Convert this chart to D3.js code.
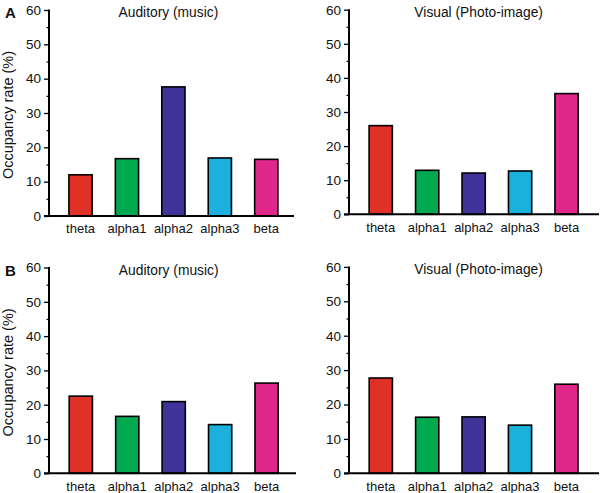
<!DOCTYPE html>
<html>
<head>
<meta charset="utf-8">
<script src="https://cdn.jsdelivr.net/npm/d3@7"></script>
<style>
  html, body { margin: 0; padding: 0; background: #fff; }
  svg { display: block; font-family: Arial, "Liberation Sans", Helvetica, sans-serif; }
</style>
</head>
<body>
<svg id="chart" width="602" height="493"></svg>
<script>
// ---- data ----
const categories = ["theta", "alpha1", "alpha2", "alpha3", "beta"];
const barColors = ["#e03127", "#00a84f", "#403399", "#1cb0dc", "#e0278a"];
const auditoryA = [12.0, 16.7, 37.6, 16.9, 16.5];
const visualA   = [26.0, 12.9, 12.1, 12.7, 35.4];
const auditoryB = [22.5, 16.6, 20.9, 14.2, 26.3];
const visualB   = [27.7, 16.3, 16.4, 14.0, 25.9];
const yTicks = [0, 10, 20, 30, 40, 50, 60];
const yMinorTicks = [5, 15, 25, 35, 45, 55];
const titles = ["Auditory (music)", "Visual (Photo-image)"];
const yTitle = "Occupancy rate (%)";

const svg = d3.select("#chart");

const panels = [
  { values: auditoryA, title: titles[0], ax: 49,  y0: 216,   y60: 10,    r: [57.3, 289.5], xEnd: 294, letter: "A", showYTitle: true },
  { values: visualA,   title: titles[1], ax: 349, y0: 214.3, y60: 9.7,   r: [357.5, 589.8], xEnd: 599, letter: null, showYTitle: false },
  { values: auditoryB, title: titles[0], ax: 49,  y0: 473.3, y60: 267.5, r: [57.6, 289.8], xEnd: 296, letter: "B", showYTitle: true },
  { values: visualB,   title: titles[1], ax: 349, y0: 473.3, y60: 266.9, r: [357.6, 589.6], xEnd: 599, letter: null, showYTitle: false }
];

panels.forEach(p => {
  const g = svg.append("g");
  const y = d3.scaleLinear().domain([0, 60]).range([p.y0, p.y60]);
  const x = d3.scaleBand().domain(categories).range(p.r).paddingInner(0.5).paddingOuter(0.25);

  // bars
  g.selectAll("rect.bar").data(p.values).enter().append("rect")
    .attr("class", "bar")
    .attr("x", (d, i) => x(categories[i]))
    .attr("width", x.bandwidth())
    .attr("y", d => y(d))
    .attr("height", d => y(0) - y(d))
    .attr("fill", (d, i) => barColors[i])
    .attr("stroke", "#000")
    .attr("stroke-width", 1.6);

  // y axis (major)
  const yAxis = d3.axisLeft(y).tickValues(yTicks).tickSize(5).tickPadding(3).tickFormat(d3.format("d"));
  const ya = g.append("g").attr("transform", `translate(${p.ax},0)`).call(yAxis);
  ya.select(".domain").remove();
  ya.selectAll(".tick line").attr("stroke", "#000").attr("stroke-width", 1.3);
  ya.selectAll(".tick text").attr("font-size", 13.5).attr("fill", "#111")
    .attr("font-family", "Arial, 'Liberation Sans', sans-serif");
  // minor ticks
  const ym = d3.axisLeft(y).tickValues(yMinorTicks).tickSize(2.5).tickFormat("");
  const ymg = g.append("g").attr("transform", `translate(${p.ax},0)`).call(ym);
  ymg.select(".domain").remove();
  ymg.selectAll(".tick line").attr("stroke", "#000").attr("stroke-width", 1.2);

  // axis lines
  g.append("line").attr("x1", p.ax).attr("x2", p.ax)
    .attr("y1", y(60) - 0.5).attr("y2", y(0))
    .attr("stroke", "#000").attr("stroke-width", 2);
  g.append("line").attr("x1", p.ax - 5).attr("x2", p.xEnd)
    .attr("y1", y(0)).attr("y2", y(0))
    .attr("stroke", "#000").attr("stroke-width", 2);

  // x category labels
  const xAxis = d3.axisBottom(x).tickSize(0).tickPadding(8);
  const xa = g.append("g").attr("transform", `translate(0,${p.y0})`).call(xAxis);
  xa.select(".domain").remove();
  xa.selectAll(".tick text").attr("font-size", 13).attr("fill", "#111")
    .attr("font-family", "Arial, 'Liberation Sans', sans-serif");

  // title
  g.append("text")
    .attr("x", (p.r[0] + p.r[1]) / 2 + (p.ax === 49 ? -5 : 5))
    .attr("y", p.y60 + 7)
    .attr("text-anchor", "middle")
    .attr("font-size", 13.8)
    .attr("fill", "#111")
    .text(p.title);

  if (p.letter) {
    g.append("text").attr("x", 5).attr("y", p.y60 + 8)
      .attr("font-size", 15).attr("font-weight", "bold").attr("fill", "#111")
      .text(p.letter);
  }
  if (p.showYTitle) {
    g.append("text")
      .attr("transform", `translate(13,${(p.y0 + p.y60) / 2 + 2}) rotate(-90)`)
      .attr("text-anchor", "middle")
      .attr("font-size", 14.5)
      .attr("fill", "#111")
      .text(yTitle);
  }
});
</script>
</body>
</html>
